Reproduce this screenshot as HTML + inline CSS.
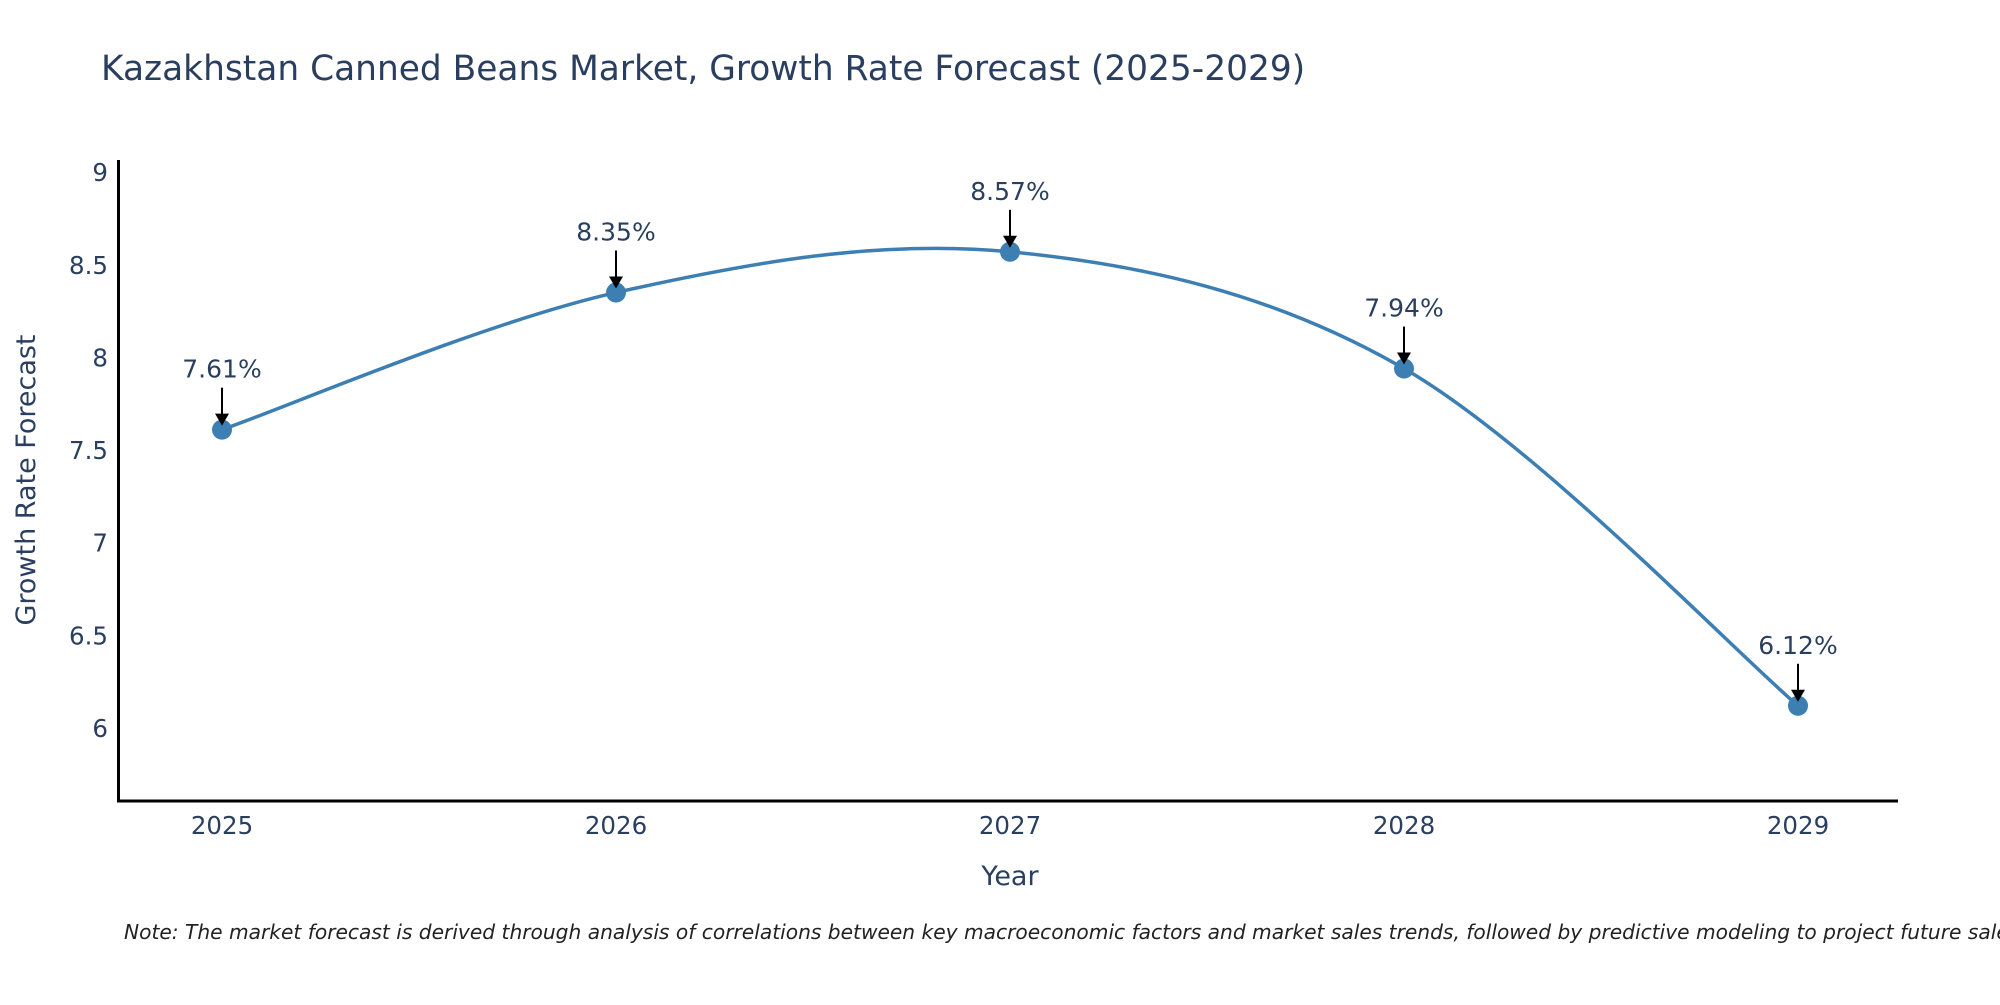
<!DOCTYPE html>
<html><head><meta charset="utf-8"><style>
body{margin:0;background:#fff;font-family:"Liberation Sans","DejaVu Sans",sans-serif}
svg text{font-family:"DejaVu Sans","Liberation Sans",sans-serif;fill:#2a3f5f}
</style></head><body>
<svg id="chart" width="2000" height="1000" viewBox="0 0 2000 1000" xmlns="http://www.w3.org/2000/svg">
<text x="101" y="80" font-size="34.4">Kazakhstan Canned Beans Market, Growth Rate Forecast (2025-2029)</text>
<g id="yticks"></g>
<g id="xticks"></g>
<path id="line" fill="none" stroke="#3d7fb3" stroke-width="3.5"/>
<g id="marks"></g>
<line x1="118.5" y1="160" x2="118.5" y2="802" stroke="#000" stroke-width="3"/>
<line x1="117" y1="801" x2="1898" y2="801" stroke="#000" stroke-width="3"/>
<text transform="translate(35,480) rotate(-90)" text-anchor="middle" font-size="27">Growth Rate Forecast</text>
<text x="1010" y="885" text-anchor="middle" font-size="27">Year</text>
<text x="124" y="939" font-size="20.2" font-style="italic" style="fill:#222">Note: The market forecast is derived through analysis of correlations between key macroeconomic factors and market sales trends, followed by predictive modeling to project future sales.</text>
</svg>
<script>
const years=[2025,2026,2027,2028,2029];
const values=[7.61,8.35,8.57,7.94,6.12];
const labels=["7.61%","8.35%","8.57%","7.94%","6.12%"];
const yTicks=[6,6.5,7,7.5,8,8.5,9];
const NS="http://www.w3.org/2000/svg";
const xS=v=>222+(v-2025)*394;
const yS=v=>728-(v-6)*185.3;
function mk(t,a,p){const e=document.createElementNS(NS,t);for(const k in a)e.setAttribute(k,a[k]);p.appendChild(e);return e;}
const yt=document.getElementById('yticks');
yTicks.forEach(t=>{const e=mk('text',{x:108,y:yS(t)+9,'text-anchor':'end','font-size':24.5},yt);e.textContent=String(t);

});
const xt=document.getElementById('xticks');
years.forEach(t=>{const e=mk('text',{x:xS(t),y:834,'text-anchor':'middle','font-size':24.5},xt);e.textContent=String(t);

});
const P=years.map((y,i)=>[xS(y),yS(values[i])]);
let d=`M${P[0][0]},${P[0][1]}`;
for(let i=0;i<P.length-1;i++){const p0=P[Math.max(0,i-1)],p1=P[i],p2=P[i+1],p3=P[Math.min(P.length-1,i+2)];const k=1/6;
d+=` C${p1[0]+(p2[0]-p0[0])*k},${p1[1]+(p2[1]-p0[1])*k} ${p2[0]-(p3[0]-p1[0])*k},${p2[1]-(p3[1]-p1[1])*k} ${p2[0]},${p2[1]}`;}
document.getElementById('line').setAttribute('d',d);
const mg=document.getElementById('marks');
P.forEach((p,i)=>{
const c=mk('circle',{cx:p[0],cy:p[1],r:10,fill:'#3d7fb3'},mg);


const l=mk('line',{x1:p[0],y1:p[1]-42,x2:p[0],y2:p[1]-14,stroke:'#000','stroke-width':2},mg);


const h=mk('polygon',{points:`${p[0]-7},${p[1]-16} ${p[0]+7},${p[1]-16} ${p[0]},${p[1]-4}`,fill:'#000'},mg);


const t=mk('text',{x:p[0],y:p[1]-52,'text-anchor':'middle','font-size':25},mg);t.textContent=labels[i];


});
</script>
</body></html>
